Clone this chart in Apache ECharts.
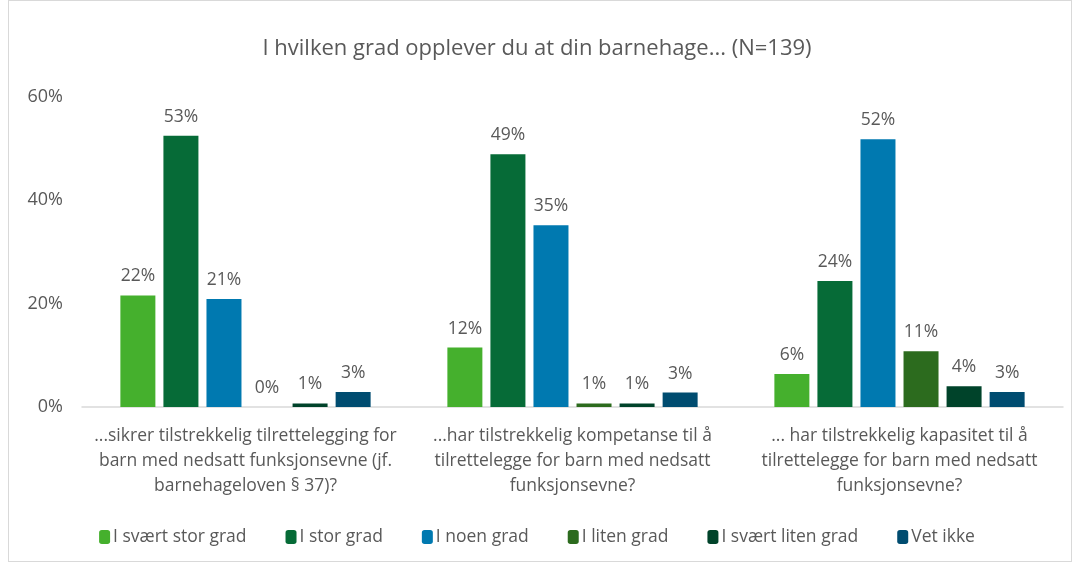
<!DOCTYPE html>
<html>
<head>
    <meta charset="utf-8">
    <script src="https://cdn.jsdelivr.net/npm/echarts@6/dist/echarts.min.js"></script>
    <style>
        html, body { margin: 0; padding: 0; background: #fff; }
        #frame { position: absolute; left: 8px; top: 0; width: 1064px; height: 562px; border: 1px solid #d9d9d9; box-sizing: border-box; }
        #main { position: absolute; left: 0; top: 0; width: 1074px; height: 564px; }
    </style>
</head>
<body>
<div id="frame"></div>
<div id="main"></div>
<script type="text/javascript">
    var categories = [
        '...sikrer tilstrekkelig tilrettelegging for\nbarn med nedsatt funksjonsevne (jf.\nbarnehageloven § 37)?',
        '...har tilstrekkelig kompetanse til å\ntilrettelegge for barn med nedsatt\nfunksjonsevne?',
        '... har tilstrekkelig kapasitet til å\ntilrettelegge for barn med nedsatt\nfunksjonsevne?'
    ];
    var seriesNames = ['I svært stor grad', 'I stor grad', 'I noen grad', 'I liten grad', 'I svært liten grad', 'Vet ikke'];
    var seriesColors = ['#45b02d', '#066b37', '#0079b0', '#2c6b1e', '#00432a', '#004c70'];
    // verdier i prosent, per kategori
    var svaertStor = [21.6, 11.5, 6.4];
    var stor = [52.5, 48.9, 24.4];
    var noen = [20.9, 35.2, 51.8];
    var liten = [0, 0.7, 10.8];
    var svaertLiten = [0.7, 0.7, 4.0];
    var vetIkke = [2.9, 2.8, 2.9];
    var yTicks = [0, 20, 40, 60];

    var allData = [svaertStor, stor, noen, liten, svaertLiten, vetIkke];
    var textColor = '#595959';
    var font = 'Open Sans';

    var myChart = echarts.init(document.getElementById('main'));
    var option = {
        animation: false,
        textStyle: {fontFamily: font},
        title: {
            text: 'I hvilken grad opplever du at din barnehage... (N=139)',
            left: 'center', top: 33,
            textStyle: {fontSize: 22, fontWeight: 'normal', color: textColor, fontFamily: font}
        },
        legend: {
            data: seriesNames,
            bottom: 13, left: 'center',
            itemWidth: 11, itemHeight: 14, itemGap: 39,
            textStyle: {fontSize: 17.5, color: textColor, fontFamily: font, padding: [0, 0, 0, -2]}
        },
        grid: {left: 82, right: 11, top: 97, bottom: 157},
        xAxis: {
            type: 'category',
            data: categories,
            axisLine: {lineStyle: {color: '#d9d9d9', width: 1.5}},
            axisTick: {show: false},
            axisLabel: {fontSize: 17.5, color: textColor, lineHeight: 25, margin: 17, interval: 0}
        },
        yAxis: {
            type: 'value', min: yTicks[0], max: yTicks[yTicks.length - 1], interval: 20,
            axisLine: {show: false},
            axisTick: {show: false},
            splitLine: {show: false},
            axisLabel: {fontSize: 18, color: textColor, margin: 19, formatter: '{value}%'}
        },
        series: seriesNames.map(function (name, i) {
            return {
                name: name, type: 'bar',
                data: allData[i],
                barWidth: 35, barGap: '23%', barCategoryGap: '23%',
                itemStyle: {color: seriesColors[i]},
                label: {
                    show: true, position: 'top', distance: 10,
                    fontSize: 17.5, color: textColor, fontFamily: font,
                    formatter: function (p) { return Math.round(p.value) + '%'; }
                }
            };
        })
    };
    myChart.setOption(option);
</script>
</body>
</html>
